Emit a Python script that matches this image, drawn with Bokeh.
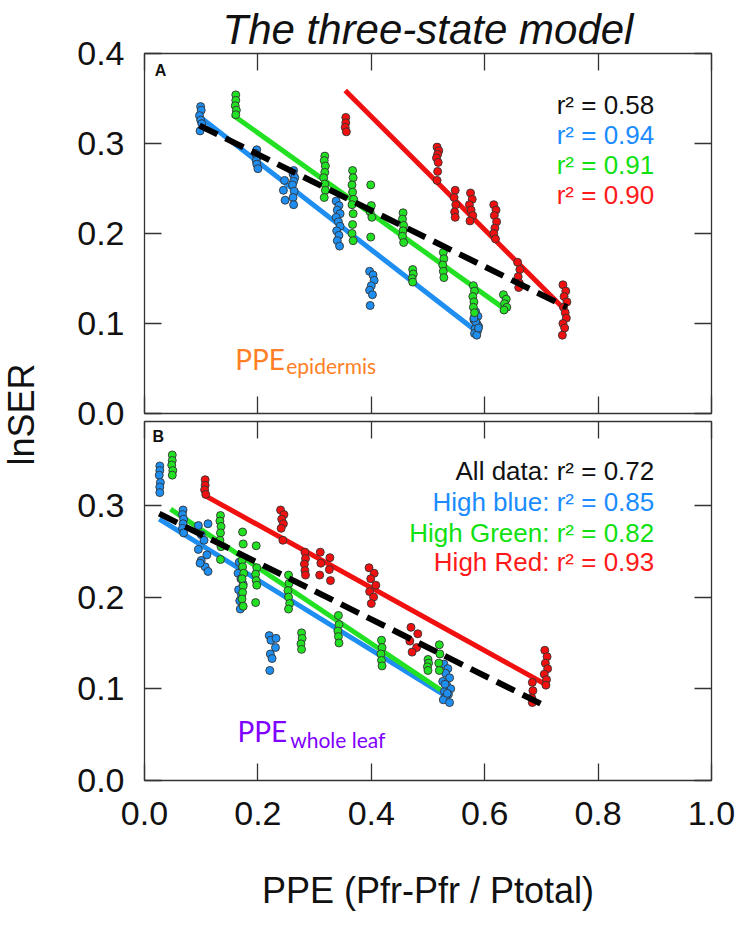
from bokeh.plotting import figure
from bokeh.models import Range1d, LinearAxis, FixedTicker, Label, PrintfTickFormatter, Title
from bokeh.layouts import row, column
from bokeh.embed import file_html
from bokeh.resources import INLINE

FONT = "Liberation Sans"
SUBFONT = "Lato"

# ---------------- data: panel A (PPE epidermis) ----------------
a_blue_x = [0.099, 0.100, 0.097, 0.099, 0.101, 0.098,
            0.198, 0.196, 0.199, 0.197, 0.198, 0.200,
            0.247, 0.245, 0.248,
            0.263, 0.262, 0.265, 0.263, 0.261, 0.264, 0.262, 0.263,
            0.338, 0.343, 0.340, 0.345, 0.338, 0.342, 0.345, 0.339, 0.343, 0.340, 0.344,
            0.397, 0.403, 0.405, 0.400, 0.397, 0.402, 0.398,
            0.584, 0.588, 0.581, 0.586, 0.589, 0.583, 0.587, 0.582, 0.586, 0.584, 0.589, 0.581]
a_blue_y = [0.341, 0.337, 0.331, 0.326, 0.322, 0.314,
            0.293, 0.289, 0.285, 0.281, 0.277, 0.272,
            0.259, 0.248, 0.237,
            0.270, 0.266, 0.262, 0.258, 0.254, 0.247, 0.240, 0.232,
            0.236, 0.231, 0.226, 0.222, 0.218, 0.213, 0.208, 0.203, 0.198, 0.192, 0.186,
            0.158, 0.154, 0.148, 0.142, 0.137, 0.132, 0.120,
            0.113, 0.108, 0.104, 0.100, 0.097, 0.094, 0.091, 0.089, 0.087, 0.102, 0.095, 0.106]

a_green_x = [0.161, 0.161, 0.160, 0.162, 0.161,
             0.318, 0.317, 0.319, 0.318, 0.316, 0.318, 0.319, 0.317,
             0.367, 0.368, 0.366, 0.367, 0.369, 0.366, 0.368, 0.367, 0.366, 0.368,
             0.399, 0.400, 0.398, 0.401, 0.399,
             0.456, 0.455, 0.457, 0.456, 0.455, 0.457,
             0.473, 0.474, 0.472, 0.473,
             0.527, 0.528, 0.526, 0.527, 0.528,
             0.580, 0.582, 0.579, 0.581, 0.580, 0.582,
             0.633, 0.638, 0.635, 0.639, 0.634]
a_green_y = [0.354, 0.348, 0.342, 0.337, 0.332,
             0.286, 0.281, 0.275, 0.268, 0.262, 0.255, 0.248, 0.240,
             0.270, 0.262, 0.254, 0.246, 0.238, 0.232, 0.222, 0.210, 0.200, 0.192,
             0.254, 0.231, 0.224, 0.218, 0.196,
             0.223, 0.216, 0.209, 0.203, 0.197, 0.190,
             0.160, 0.155, 0.150, 0.146,
             0.179, 0.172, 0.165, 0.158, 0.151,
             0.142, 0.136, 0.130, 0.124, 0.118, 0.112,
             0.132, 0.127, 0.122, 0.118, 0.115]

a_red_x = [0.355, 0.355, 0.354, 0.356,
           0.516, 0.519, 0.517, 0.515, 0.518, 0.517, 0.516,
           0.548, 0.546, 0.549, 0.547, 0.548,
           0.575, 0.578, 0.573, 0.576, 0.579, 0.574,
           0.616, 0.620, 0.617, 0.621, 0.618, 0.616, 0.619,
           0.658, 0.662, 0.659, 0.661, 0.660,
           0.738, 0.743, 0.740, 0.745, 0.739, 0.742, 0.744, 0.738, 0.741, 0.737]
a_red_y = [0.329, 0.323, 0.318, 0.313,
           0.296, 0.292, 0.288, 0.284, 0.279, 0.269, 0.259,
           0.248, 0.240, 0.232, 0.224, 0.218,
           0.245, 0.238, 0.232, 0.226, 0.220, 0.214,
           0.232, 0.226, 0.220, 0.213, 0.206, 0.200, 0.194,
           0.168, 0.160, 0.152, 0.145, 0.140,
           0.143, 0.136, 0.130, 0.124, 0.118, 0.112, 0.106, 0.100, 0.095, 0.087]

a_fit_blue_x, a_fit_blue_y = [0.099, 0.582], [0.329, 0.093]
a_fit_green_x, a_fit_green_y = [0.155, 0.640], [0.332, 0.114]
a_fit_red_x, a_fit_red_y = [0.354, 0.745], [0.359, 0.113]
a_fit_all_x, a_fit_all_y = [0.097, 0.745], [0.320, 0.118]

a_r2_labels = ["r\u00b2 = 0.58", "r\u00b2 = 0.94", "r\u00b2 = 0.91", "r\u00b2 = 0.90"]

# ---------------- data: panel B (PPE whole leaf) ----------------
b_blue_x = [0.027, 0.027, 0.026, 0.028, 0.027, 0.027,
            0.068, 0.067, 0.069, 0.068, 0.067, 0.069,
            0.095, 0.112, 0.100, 0.105, 0.095, 0.110, 0.100, 0.107, 0.112, 0.098,
            0.167, 0.172, 0.165, 0.170, 0.174, 0.166, 0.171, 0.168, 0.173, 0.169,
            0.220, 0.223, 0.232, 0.231, 0.222, 0.225, 0.221,
            0.528, 0.535, 0.531, 0.538, 0.526, 0.533, 0.540, 0.529, 0.536, 0.531, 0.527, 0.538, 0.534, 0.530]
b_blue_y = [0.343, 0.338, 0.333, 0.325, 0.320, 0.314,
            0.295, 0.290, 0.285, 0.280, 0.275, 0.270,
            0.278, 0.280, 0.268, 0.262, 0.252, 0.246, 0.240, 0.233, 0.228, 0.237,
            0.238, 0.232, 0.226, 0.220, 0.214, 0.208, 0.202, 0.196, 0.190, 0.187,
            0.158, 0.153, 0.155, 0.145, 0.138, 0.133, 0.120,
            0.127, 0.122, 0.117, 0.112, 0.108, 0.104, 0.100, 0.097, 0.094, 0.091, 0.088, 0.085, 0.095, 0.105]

b_green_x = [0.049, 0.049, 0.048, 0.050, 0.049,
             0.134, 0.133, 0.135, 0.134, 0.133, 0.135, 0.134,
             0.173, 0.174, 0.172, 0.173, 0.175, 0.172, 0.174, 0.173, 0.172, 0.174,
             0.197, 0.198, 0.196, 0.197, 0.198, 0.196,
             0.254, 0.255, 0.253, 0.254, 0.256, 0.254,
             0.277, 0.278, 0.276, 0.277,
             0.342, 0.343, 0.341, 0.342, 0.343,
             0.418, 0.419, 0.417, 0.418, 0.419,
             0.500, 0.501, 0.499, 0.500,
             0.520, 0.521, 0.519, 0.520]
b_green_y = [0.355, 0.349, 0.344, 0.338, 0.333,
             0.289, 0.283, 0.277, 0.270, 0.262, 0.255, 0.241,
             0.271, 0.258, 0.240, 0.233, 0.226, 0.220, 0.212, 0.205, 0.198, 0.190,
             0.256, 0.232, 0.225, 0.218, 0.213, 0.194,
             0.224, 0.215, 0.207, 0.200, 0.193, 0.187,
             0.161, 0.155, 0.149, 0.143,
             0.180, 0.170, 0.163, 0.157, 0.150,
             0.153, 0.145, 0.138, 0.131, 0.125,
             0.132, 0.128, 0.124, 0.120,
             0.148, 0.138, 0.128, 0.120]

b_red_x = [0.107, 0.107, 0.106, 0.108,
           0.240, 0.246, 0.242, 0.245, 0.241, 0.244,
           0.283, 0.284, 0.282, 0.283, 0.284,
           0.310, 0.327, 0.311, 0.326, 0.309, 0.328,
           0.396, 0.405, 0.399, 0.408, 0.397, 0.404, 0.400,
           0.470, 0.482, 0.468, 0.480, 0.472,
           0.684, 0.685, 0.683, 0.684,
           0.706, 0.710, 0.707, 0.711, 0.705, 0.709, 0.708]
b_red_y = [0.328, 0.322, 0.317, 0.312,
           0.295, 0.290, 0.285, 0.280, 0.275, 0.262,
           0.249, 0.242, 0.236, 0.229, 0.224,
           0.249, 0.243, 0.237, 0.230, 0.224, 0.218,
           0.232, 0.226, 0.220, 0.213, 0.206, 0.200, 0.193,
           0.167, 0.160, 0.152, 0.145, 0.140,
           0.107, 0.098, 0.090, 0.085,
           0.142, 0.135, 0.128, 0.122, 0.116, 0.110, 0.104]

b_fit_blue_x, b_fit_blue_y = [0.026, 0.529], [0.285, 0.093]
b_fit_green_x, b_fit_green_y = [0.046, 0.522], [0.296, 0.099]
b_fit_red_x, b_fit_red_y = [0.106, 0.707], [0.311, 0.105]
b_fit_all_x, b_fit_all_y = [0.026, 0.711], [0.291, 0.080]

b_r2_labels = ["All data: r\u00b2 = 0.72", "High blue: r\u00b2 = 0.85",
               "High Green: r\u00b2 = 0.82", "High Red: r\u00b2 = 0.93"]

x_ticks = [0.0, 0.2, 0.4, 0.6, 0.8, 1.0]
a_y_ticks = [0.0, 0.1, 0.2, 0.3, 0.4]
b_y_ticks = [0.0, 0.1, 0.2, 0.3]

# ---------------- styles ----------------
BLUE, GREEN, RED = "#1f8ef1", "#22e022", "#f01010"
TXT_BLUE, TXT_GREEN, TXT_RED, TXT_BLACK = "#1a8cff", "#11e011", "#ff1a1a", "#111111"
EDGE = "#333333"


def add_axis(p, side, ticks, labels):
    ax = LinearAxis(ticker=FixedTicker(ticks=ticks), major_tick_in=17, major_tick_out=0,
                    minor_tick_line_color=None, axis_line_color=None,
                    major_tick_line_color=EDGE, major_tick_line_width=1.3)
    if labels:
        ax.formatter = PrintfTickFormatter(format="%.1f")
        ax.major_label_text_font = FONT
        ax.major_label_text_font_size = "34px"
        ax.major_label_text_color = "#111111"
        ax.major_label_standoff = 20
    else:
        ax.major_label_text_color = None
        ax.major_label_text_font_size = "1px"
        ax.major_label_standoff = 0
    p.add_layout(ax, side)
    return ax


def make_panel(ymax, fh, btop, bbottom, yticks, **kw):
    p = figure(frame_width=567, frame_height=fh, x_range=Range1d(0, 1), y_range=Range1d(0, ymax),
               x_axis_type=None, y_axis_type=None, toolbar_location=None, output_backend="svg",
               min_border_left=100, min_border_right=24, min_border_top=btop,
               min_border_bottom=bbottom, **kw)
    p.outline_line_color = EDGE
    p.outline_line_width = 1.3
    add_axis(p, "left", yticks, True)
    add_axis(p, "right", yticks, False)
    add_axis(p, "above", x_ticks, False)
    return p


def draw(p, bx, by, gx, gy, rx, ry, fits):
    (fbx, fby), (fgx, fgy), (frx, fry), (fax, fay) = fits
    p.line(fbx, fby, line_color=BLUE, line_width=5)
    p.line(fgx, fgy, line_color=GREEN, line_width=5)
    p.line(frx, fry, line_color=RED, line_width=5)
    for xs, ys, c in ((bx, by, BLUE), (gx, gy, GREEN), (rx, ry, RED)):
        p.scatter(xs, ys, size=8, fill_color=c, line_color=EDGE, line_width=0.9)
    p.line(fax, fay, line_color="black", line_width=6, line_dash="20 9")


# ---------------- panel A (with the title in its top border) ----------------
A_TOP, A_BOTTOM = 53, 24
pa = make_panel(0.4, 360, A_TOP, A_BOTTOM, a_y_ticks,
                title=Title(text="The three-state model", align="center", text_font=FONT,
                            text_font_size="42px", text_font_style="italic",
                            text_color="#111111", standoff=2, offset=2))
add_axis(pa, "below", x_ticks, False)
draw(pa, a_blue_x, a_blue_y, a_green_x, a_green_y, a_red_x, a_red_y,
     [(a_fit_blue_x, a_fit_blue_y), (a_fit_green_x, a_fit_green_y),
      (a_fit_red_x, a_fit_red_y), (a_fit_all_x, a_fit_all_y)])
for txt, yy, col in zip(a_r2_labels, [0.343, 0.310, 0.276, 0.243],
                        [TXT_BLACK, TXT_BLUE, TXT_GREEN, TXT_RED]):
    pa.add_layout(Label(x=0.899, y=yy, text=txt, text_align="right", text_baseline="middle",
                        text_font=FONT, text_font_size="26px", text_color=col))
pa.add_layout(Label(x=0.018, y=0.381, text="A", text_align="left", text_baseline="middle",
                    text_font=FONT, text_font_size="16px", text_font_style="bold", text_color="#111111"))
pa.add_layout(Label(x=0.160, y=0.061, text="PPE", text_align="left", text_baseline="alphabetic",
                    text_font=SUBFONT, text_font_size="28px", text_color="#ff7f27"))
pa.add_layout(Label(x=0.250, y=0.053, text="epidermis", text_align="left", text_baseline="alphabetic",
                    text_font=SUBFONT, text_font_size="21px", text_color="#ff7f27"))

# ---------------- panel B (pulled up so that A's lower label fits) ----------------
B_TOP, B_BOTTOM = 4, 140
OVERLAP = A_BOTTOM - 4
pb = make_panel(0.3915, 359, B_TOP, B_BOTTOM, b_y_ticks, margin=(-OVERLAP, 0, 0, 0))
pb.border_fill_color = None
xb = add_axis(pb, "below", x_ticks, True)
xb.major_label_standoff = 21
xb.axis_label = "PPE (Pfr-Pfr / Ptotal)"
xb.axis_label_text_font = FONT
xb.axis_label_text_font_size = "36px"
xb.axis_label_text_font_style = "normal"
xb.axis_label_text_color = "#111111"
xb.axis_label_standoff = 42
draw(pb, b_blue_x, b_blue_y, b_green_x, b_green_y, b_red_x, b_red_y,
     [(b_fit_blue_x, b_fit_blue_y), (b_fit_green_x, b_fit_green_y),
      (b_fit_red_x, b_fit_red_y), (b_fit_all_x, b_fit_all_y)])
for txt, yy, col in zip(b_r2_labels, [0.337, 0.304, 0.270, 0.238],
                        [TXT_BLACK, TXT_BLUE, TXT_GREEN, TXT_RED]):
    pb.add_layout(Label(x=0.899, y=yy, text=txt, text_align="right", text_baseline="middle",
                        text_font=FONT, text_font_size="26px", text_color=col))
pb.add_layout(Label(x=0.014, y=0.375, text="B", text_align="left", text_baseline="middle",
                    text_font=FONT, text_font_size="16px", text_font_style="bold", text_color="#111111"))
pb.add_layout(Label(x=0.164, y=0.054, text="PPE", text_align="left", text_baseline="alphabetic",
                    text_font=SUBFONT, text_font_size="28px", text_color="#8000ff"))
pb.add_layout(Label(x=0.257, y=0.045, text="whole leaf", text_align="left", text_baseline="alphabetic",
                    text_font=SUBFONT, text_font_size="21px", text_color="#8000ff"))

# ---------------- y-axis title ----------------
HA = A_TOP + 360 + A_BOTTOM
HB = B_TOP + 359 + B_BOTTOM
H = HA + HB - OVERLAP
pl = figure(width=44, height=H, x_range=Range1d(0, 44), y_range=Range1d(H, 0),
            x_axis_type=None, y_axis_type=None, toolbar_location=None, output_backend="svg",
            min_border=0)
pl.outline_line_color = None
pl.add_layout(Label(x=21, y=414, text="lnSER", text_align="center", text_baseline="middle",
                    angle=1.5707963, text_font=FONT, text_font_size="36px", text_color="#111111"))

layout = row(pl, column(pa, pb))
open("out.html", "w").write(file_html(layout, INLINE))
